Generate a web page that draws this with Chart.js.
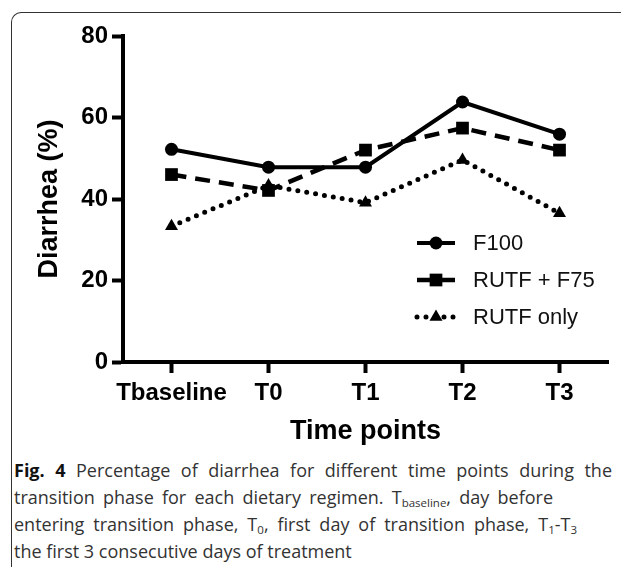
<!DOCTYPE html>
<html>
<head>
<meta charset="utf-8">
<title>Diarrhea by time point</title>
<script src="https://cdn.jsdelivr.net/npm/chart.js@4.4.0/dist/chart.umd.min.js"></script>
<style>
    html, body { margin: 0; padding: 0; background: #fff; }
    body { width: 621px; height: 567px; position: relative; overflow: hidden; }
    #frame {
        position: absolute; left: 11px; top: 12px; width: 650px; height: 600px;
        border-top: 1.5px solid #333; border-left: 1.5px solid #333;
        border-top-left-radius: 10px;
    }
    #chartBox { position: absolute; left: 0; top: 0; width: 621px; height: 450px; }
    #caption {
        position: absolute; left: 14px; top: 457px;
        font-family: "Open Sans", sans-serif; font-size: 18px; line-height: 27px;
        color: #333; white-space: nowrap;
    }
    #caption .line { display: block; }
    #caption .just { text-align: justify; text-align-last: justify; }
    #caption b { color: #111; }
    #caption sub { font-size: 11.5px; vertical-align: -3px; line-height: 0; }
</style>
</head>
<body>
<div id="frame"></div>
<div id="chartBox"><canvas id="chart"></canvas></div>
<div id="caption">
    <span class="line just" style="width:598px"><b>Fig. 4</b> Percentage of diarrhea for different time points during the</span>
    <span class="line just" style="width:539px">transition phase for each dietary regimen. T<sub>baseline</sub>, day before</span>
    <span class="line just" style="width:563px">entering transition phase, T<sub>0</sub>, first day of transition phase, T<sub>1</sub>-T<sub>3</sub></span>
    <span class="line">the first 3 consecutive days of treatment</span>
</div>
<script>
// Data
const timePoints = ['Tbaseline', 'T0', 'T1', 'T2', 'T3'];
const f100Values = [52.2, 47.8, 47.8, 63.8, 55.9];
const rutfF75Values = [46.0, 42.1, 52.0, 57.4, 52.0];
const rutfOnlyValues = [33.3, 43.3, 39.1, 49.6, 36.5];
const seriesNames = ['F100', 'RUTF + F75', 'RUTF only'];
const yTickValues = [0, 20, 40, 60, 80];

const AXIS_FONT = "'Liberation Sans', Arial, sans-serif";

// Legend drawn inside the plot area, lower right
const insideLegend = {
    id: 'insideLegend',
    afterDatasetsDraw: function(chart, args, opts) {
        const ctx = chart.ctx;
        chart.data.datasets.forEach(function(ds, i) {
            const y = opts.top + i * opts.rowGap;
            const x0 = opts.left;
            const x1 = opts.left + opts.lineLength;
            ctx.save();
            ctx.strokeStyle = ds.borderColor;
            ctx.lineWidth = ds.borderWidth;
            ctx.lineCap = ds.borderCapStyle || 'butt';
            ctx.setLineDash(ds.borderDash || []);
            ctx.beginPath();
            ctx.moveTo(x0, y);
            ctx.lineTo(x1, y);
            ctx.stroke();
            ctx.setLineDash([]);
            ctx.fillStyle = ds.pointBackgroundColor;
            Chart.helpers.drawPoint(ctx, {
                pointStyle: ds.pointStyle,
                radius: ds.pointRadius,
                rotation: 0,
                borderWidth: 0
            }, (x0 + x1) / 2, y);
            ctx.fillStyle = '#111';
            ctx.font = opts.font;
            ctx.textAlign = 'left';
            ctx.textBaseline = 'middle';
            ctx.fillText(ds.label, opts.textX, y + 1);
            ctx.restore();
        });
    }
};

function makeSeries(label, values, style) {
    return Object.assign({
        label: label,
        data: values,
        borderColor: '#000',
        pointBackgroundColor: '#000',
        pointBorderWidth: 0,
        pointHoverRadius: 0,
        tension: 0,
        fill: false
    }, style);
}

const datasets = [
    makeSeries(seriesNames[0], f100Values, {
        borderWidth: 4, borderDash: [], pointStyle: 'circle', pointRadius: 6.5
    }),
    makeSeries(seriesNames[1], rutfF75Values, {
        borderWidth: 4.5, borderDash: [15, 9], pointStyle: 'rect', pointRadius: 9
    }),
    makeSeries(seriesNames[2], rutfOnlyValues, {
        borderWidth: 5, borderDash: [0, 9], borderCapStyle: 'round',
        pointStyle: 'triangle', pointRadius: 7.5
    })
];

new Chart(document.getElementById('chart'), {
    type: 'line',
    data: { labels: timePoints, datasets: datasets },
    plugins: [insideLegend],
    options: {
        responsive: true,
        maintainAspectRatio: false,
        animation: false,
        events: [],
        layout: { padding: { top: 36, right: 13, left: 0, bottom: 0 } },
        plugins: {
            legend: { display: false },
            tooltip: { enabled: false },
            insideLegend: {
                left: 417, lineLength: 38, textX: 473, top: 243, rowGap: 37,
                font: "22px " + AXIS_FONT
            }
        },
        scales: {
            x: {
                type: 'category',
                offset: true,
                afterFit: function(scale) { scale.height = 88; },
                border: { display: true, width: 4, color: '#000' },
                grid: {
                    drawOnChartArea: false, offset: false,
                    tickLength: 11, tickWidth: 4, tickColor: '#000'
                },
                ticks: {
                    color: '#000', padding: 6, autoSkip: false, maxRotation: 0,
                    font: { family: AXIS_FONT, size: 24, weight: 'bold' }
                },
                title: {
                    display: true, text: 'Time points', color: '#000',
                    padding: { top: 2, bottom: 2 },
                    font: { family: AXIS_FONT, size: 27, weight: 'bold' }
                }
            },
            y: {
                min: 0,
                max: 80,
                afterFit: function(scale) { scale.width = 123; },
                afterBuildTicks: function(scale) {
                    scale.ticks = yTickValues.map(function(v) { return { value: v }; });
                },
                border: { display: true, width: 4, color: '#000' },
                grid: {
                    drawOnChartArea: false,
                    tickLength: 11, tickWidth: 4, tickColor: '#000'
                },
                ticks: {
                    color: '#000', padding: 4,
                    font: { family: AXIS_FONT, size: 24, weight: 'bold' }
                },
                title: {
                    display: true, text: 'Diarrhea (%)', color: '#000',
                    padding: { top: 33, bottom: 0 },
                    font: { family: AXIS_FONT, size: 27, weight: 'bold' }
                }
            }
        }
    }
});
</script>
</body>
</html>
